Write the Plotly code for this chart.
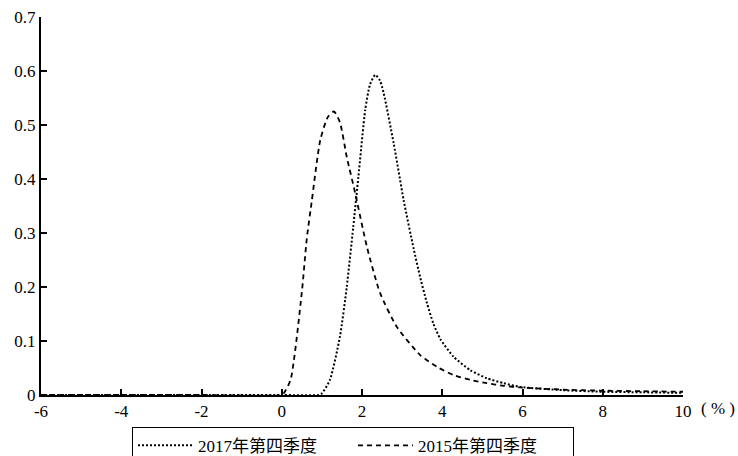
import plotly.graph_objects as go

# 2017年第四季度 (dotted)
x_2017 = [-6, -4, -2, 0, 0.9, 1.0, 1.2, 1.45, 1.62, 1.78, 1.91, 2.08, 2.2, 2.33, 2.45, 2.54, 2.79, 3.04, 3.29, 3.45, 3.62, 3.78, 3.95, 4.28, 4.7, 5.11, 5.53, 5.94, 7.0, 8.0, 9.0, 10.0]
y_2017 = [0, 0, 0, 0, 0, 0.003, 0.028, 0.108, 0.2, 0.31, 0.404, 0.528, 0.575, 0.593, 0.582, 0.559, 0.466, 0.36, 0.27, 0.218, 0.17, 0.132, 0.104, 0.071, 0.046, 0.031, 0.022, 0.015, 0.009, 0.006, 0.005, 0.004]

# 2015年第四季度 (dashed)
x_2015 = [-6, -4, -2, 0, 0.05, 0.22, 0.5, 0.625, 0.75, 0.96, 1.15, 1.3, 1.45, 1.62, 1.83, 2.12, 2.45, 2.87, 3.45, 3.87, 4.28, 4.7, 5.11, 5.53, 5.94, 7.0, 8.0, 9.0, 10.0]
y_2015 = [0, 0, 0, 0, 0.003, 0.028, 0.19, 0.29, 0.36, 0.472, 0.515, 0.525, 0.505, 0.441, 0.374, 0.275, 0.189, 0.126, 0.074, 0.052, 0.037, 0.028, 0.022, 0.017, 0.014, 0.01, 0.008, 0.007, 0.006]

x_ticks = [-6, -4, -2, 0, 2, 4, 6, 8, 10]
y_ticks = [0, 0.1, 0.2, 0.3, 0.4, 0.5, 0.6, 0.7]
y_ticktext = ["0", "0.1", "0.2", "0.3", "0.4", "0.5", "0.6", "0.7"]

serif = "Times New Roman, Liberation Serif, serif"
font_family = "Times New Roman, Liberation Serif, Noto Sans CJK SC, serif"

fig = go.Figure()
fig.add_trace(go.Scatter(x=x_2017, y=y_2017, mode="lines", name="2017年第四季度",
                         line=dict(color="black", width=2, dash="2px,2px", shape="spline", smoothing=0.6)))
fig.add_trace(go.Scatter(x=x_2015, y=y_2015, mode="lines", name="2015年第四季度",
                         line=dict(color="black", width=1.8, dash="5px,4px", shape="spline", smoothing=0.6)))

fig.update_layout(
    width=738, height=456,
    margin=dict(l=41, r=55, t=17, b=61, autoexpand=False),
    plot_bgcolor="white", paper_bgcolor="white",
    font=dict(family=font_family, size=17, color="black"),
    showlegend=True,
    legend=dict(orientation="h", x=0.486, xanchor="center", y=-0.084, yanchor="top",
                bordercolor="black", borderwidth=1, font=dict(family=font_family, size=17),
                itemwidth=55, entrywidth=150, entrywidthmode="pixels"),
    xaxis=dict(range=[-6, 10], tickvals=x_ticks, ticktext=[str(v) for v in x_ticks],
               showgrid=False, zeroline=False, showline=True, linecolor="black", linewidth=2,
               ticks="inside", ticklen=6, tickwidth=1.5, tickcolor="black", automargin=False,
               tickfont=dict(family=serif, size=17)),
    yaxis=dict(range=[0, 0.7], tickvals=y_ticks, ticktext=y_ticktext,
               showgrid=False, zeroline=False, showline=True, linecolor="black", linewidth=2,
               ticks="inside", ticklen=6, tickwidth=1.5, tickcolor="black", automargin=False,
               tickfont=dict(family=serif, size=17)),
)
fig.add_annotation(x=1, xref="paper", y=0, yref="paper", text="( % )", showarrow=False,
                   xanchor="left", yanchor="middle", xshift=16, yshift=-13,
                   font=dict(family=serif, size=17, color="black"))

fig.write_html("out.html", config={"displayModeBar": False},
               post_script="document.body.style.margin='0';document.body.style.overflow='hidden';")
